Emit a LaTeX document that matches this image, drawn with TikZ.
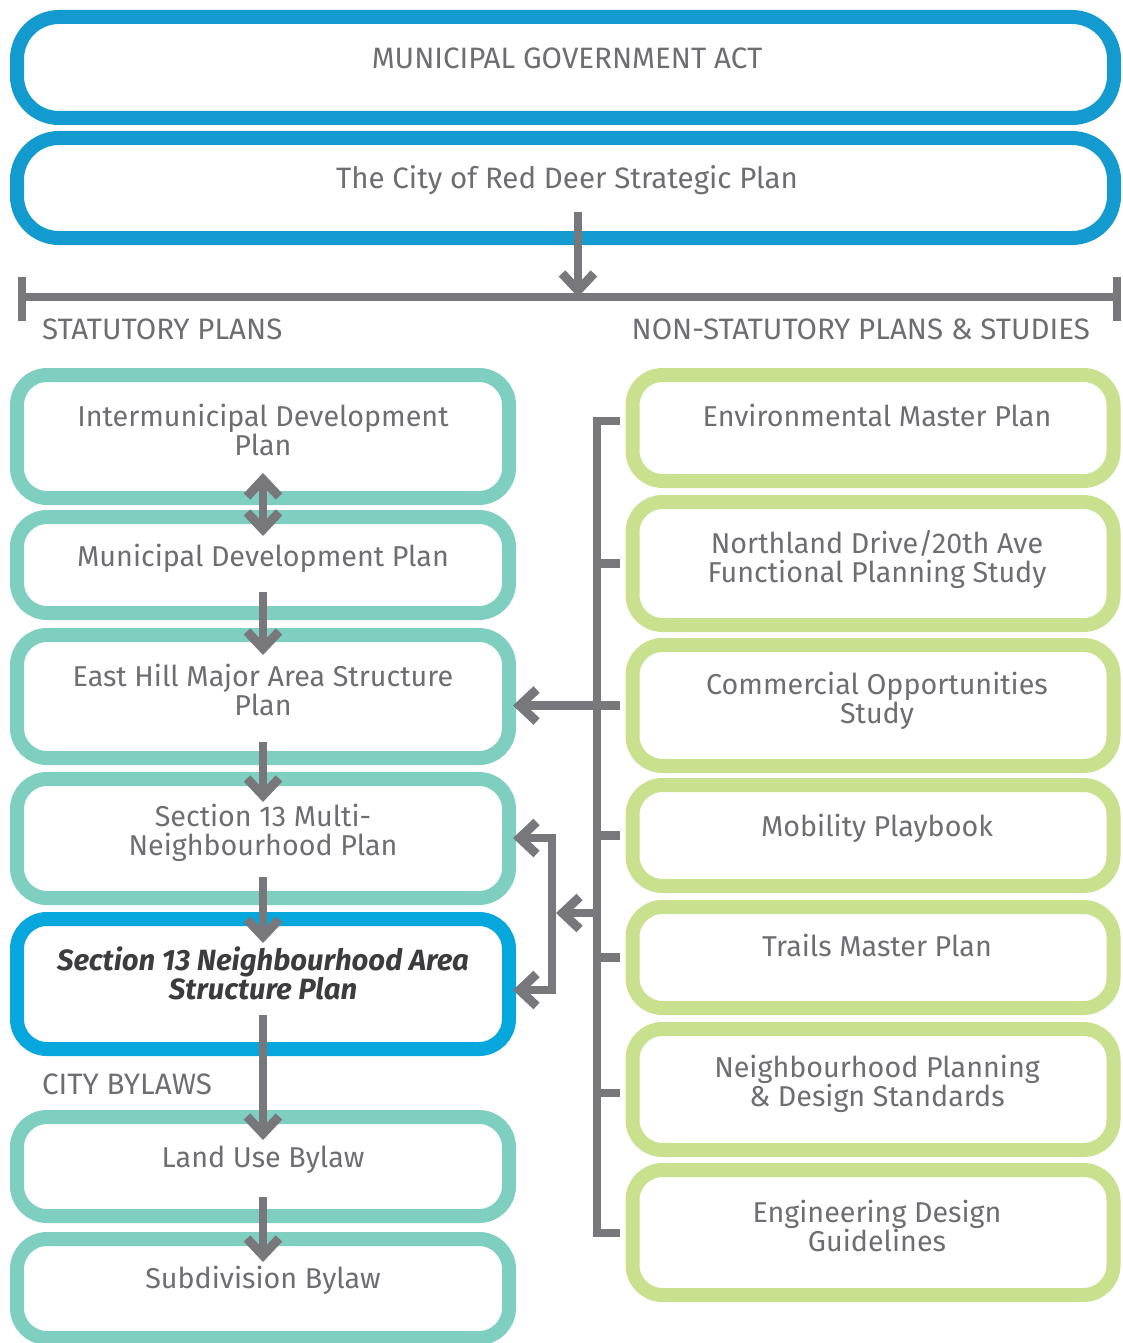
\documentclass[tikz,border=0pt]{standalone}
\usepackage{fontspec}
\setmainfont{Fira Sans}
\newfontfamily\capsfont{Fira Sans}
\usetikzlibrary{arrows.meta}
\definecolor{topblue}{HTML}{139BCF}
\definecolor{keyblue}{HTML}{05A7DD}
\definecolor{tealc}{HTML}{7FCFC1}
\definecolor{greenc}{HTML}{C9E08F}
\definecolor{arrowgray}{HTML}{77777C}
\definecolor{txtgray}{HTML}{6E6E72}
\definecolor{darktxt}{HTML}{3C3C3E}
\begin{document}
\begin{tikzpicture}[x=1pt,y=-1pt,
  box/.style={draw, line width=14pt, rounded corners=30pt, fill=white, inner sep=0pt},
  lbox/.style={box, draw=tealc, minimum width=492pt},
  rbox/.style={box, draw=greenc, minimum width=481pt},
  tbox/.style={box, draw=topblue, minimum width=1097pt, rounded corners=42pt},
  txt/.style={text=txtgray, font=\fontsize{28.7}{29}\selectfont, align=center, inner sep=0pt, text height=20pt, text depth=7pt},
  captxt/.style={text=txtgray, font=\capsfont\fontsize{29.5}{31}\selectfont, inner sep=0pt, text height=20pt, text depth=7pt},
  conn/.style={draw=arrowgray, line width=8.5pt},
  tip/.tip={Straight Barb[length=17pt, width=32pt, line width=9pt]},
  arr/.style={conn, -tip},
  darr/.style={conn, tip-tip}
]
\useasboundingbox (0,0) rectangle (1122,1343);

% top boxes
\node[tbox, minimum height=101pt] (mga) at (565.5,67.5) {};
\node[tbox, minimum height=100pt] (sp) at (565.5,188) {};
\node[captxt] (mgat) at (567,62) {MUNICIPAL GOVERNMENT ACT};
\node[captxt] (spt) at (567,182) {The City of Red Deer Strategic Plan};

% headings
\node[captxt, anchor=west] (stat) at (42,333) {STATUTORY PLANS};
\node[captxt, anchor=east] (nonstat) at (1090,333) {NON-STATUTORY PLANS \& STUDIES};
\node[captxt, anchor=west] (bylaws) at (42,1088) {CITY BYLAWS};

% left column
\node[lbox, minimum height=123pt] (b1) at (263,436.5) {};
\node[lbox, minimum height=96pt]  (b2) at (263,565) {};
\node[lbox, minimum height=123pt] (b3) at (263,696.5) {};
\node[lbox, minimum height=119pt] (b4) at (263,838.5) {};
\node[lbox, draw=keyblue, minimum height=130pt] (b5) at (263,984) {};
\node[lbox, minimum height=99pt]  (b6) at (263,1166.5) {};
\node[lbox, minimum height=99pt]  (b7) at (263,1288.5) {};

\node[txt] (t1) at (263,449) {Intermunicipal Development\\Plan};
\node[txt] (t2) at (263,560) {Municipal Development Plan};
\node[txt] (t3) at (263,709) {East Hill Major Area Structure\\Plan};
\node[txt] (t4) at (263,849) {Section 13 Multi-\\Neighbourhood Plan};
\node[txt, text=darktxt, font=\bfseries\itshape\fontsize{29.3}{29}\selectfont] (t5) at (263,993) {Section 13 Neighbourhood Area\\Structure Plan};
\node[txt] (t6) at (263,1161) {Land Use Bylaw};
\node[txt] (t7) at (263,1282) {Subdivision Bylaw};

% right column
\node[rbox, minimum height=106pt] (r1) at (873,428) {};
\node[rbox, minimum height=123pt] (r2) at (873,563.5) {};
\node[rbox, minimum height=121pt] (r3) at (873,705.5) {};
\node[rbox, minimum height=101pt] (r4) at (873,835.5) {};
\node[rbox, minimum height=101pt] (r5) at (873,957.5) {};
\node[rbox, minimum height=121pt] (r6) at (873,1089.5) {};
\node[rbox, minimum height=125pt] (r7) at (873,1232.5) {};

\node[txt] (u1) at (877,420) {Environmental Master Plan};
\node[txt] (u2) at (877,576) {Northland Drive/20th Ave\\Functional Planning Study};
\node[txt] (u3) at (877,717) {Commercial Opportunities\\Study};
\node[txt] (u4) at (877,830) {Mobility Playbook};
\node[txt] (u5) at (877,950) {Trails Master Plan};
\node[txt] (u6) at (877,1100) {Neighbourhood Planning\\\& Design Standards};
\node[txt] (u7) at (877,1245) {Engineering Design\\Guidelines};

% separator bar
\coordinate (barL) at (22,297);
\coordinate (barR) at (1117,297);
\draw[conn] (barL) -- (barR);
\draw[conn] ([yshift=20pt]barL) -- ([yshift=-24pt]barL);
\draw[conn] ([yshift=20pt]barR) -- ([yshift=-24pt]barR);
\coordinate (spa) at (578,212);
\draw[arr] (spa) -- (spa |- barL);

% right spine
\coordinate (sT) at (597,421);
\coordinate (sB) at (597,1233);
\coordinate (rx) at (620,0);
\draw[conn, line join=miter] (rx |- sT) -- (sT) -- (sB) -- (rx |- sB);
\draw[conn] (rx |- r2.west) -- (sT |- r2.west);
\draw[conn] (rx |- r4.west) -- (sT |- r4.west);
\draw[conn] (rx |- r5.west) -- (sT |- r5.west);
\coordinate (r6t) at (597,1093);
\draw[conn] (rx |- r6t) -- (r6t);
\coordinate (b3tip) at (513,0);
\draw[arr] (rx |- r3.west) -- (b3tip |- r3.west);

% branch to b4 / b5
\coordinate (lb) at (556,913);
\draw[arr] (sT |- lb) -- (lb);
\coordinate (p4) at (552,838);
\coordinate (p5) at (552,990);
\draw[darr, line join=miter] (b3tip |- p4) -- (p4) -- (p5) -- (b3tip |- p5);

% left column flow
\draw[darr] ([yshift=32pt]b1.south) -- ([yshift=-26pt]b2.north);
\draw[arr] ([yshift=-27pt]b2.center) -- ([yshift=-27pt]b3.north);
\draw[arr] ([yshift=-45.5pt]b3.center) -- ([yshift=-30pt]b4.north);
\draw[arr] ([yshift=-38.5pt]b4.center) -- ([yshift=-31pt]b5.north);
\draw[arr] ([yshift=-31pt]b5.center) -- ([yshift=-30pt]b6.north);
\draw[arr] ([yshift=-30.5pt]b6.center) -- ([yshift=-30pt]b7.north);
\end{tikzpicture}
\end{document}
